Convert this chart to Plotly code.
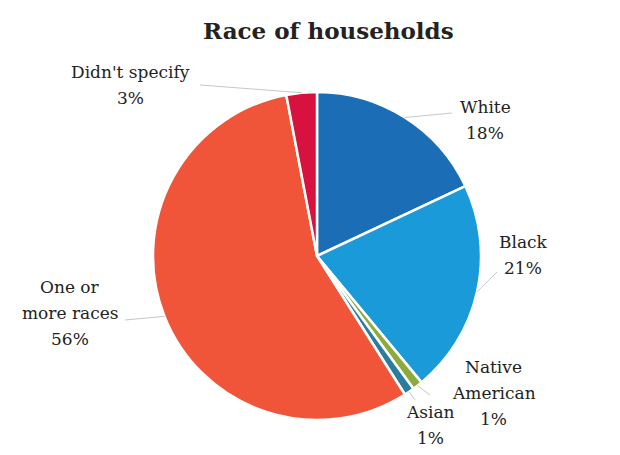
import math
import plotly.graph_objects as go

# ---- data ----
categories = ["White", "Black", "Native American", "Asian", "One or more races", "Didn't specify"]
shares = [18, 21, 1, 1, 56, 3]
label_lines = [["White", "18%"], ["Black", "21%"], ["Native", "American", "1%"], ["Asian", "1%"],
               ["One or", "more races", "56%"], ["Didn't specify", "3%"]]
colors = ["#1b6db5", "#1a9ad8", "#8cab3a", "#2b7d9e", "#f0553a", "#d8123e"]

# ---- layout helpers (pixels -> paper); page body offsets figure by 8px ----
OFF = 8
W, H = 620, 455
CX, CY, R = 317, 256, 164
SERIF = "DejaVu Serif"
LINE_GAP = 26


def px(x):
    return (x - OFF) / W


def py(y):
    return 1 - (y - OFF) / H


# label anchor positions (pixels, centre of text block)
label_pos = [(485, 120), (523, 255), (494, 393), (430, 425), (70, 313), (130, 85)]
# leader-line far ends (pixels)
line_end = [(452, 113), (497, 272), (430, 395), (415, 400), (125, 320), (200, 85)]

fig = go.Figure(go.Pie(
    labels=categories,
    values=shares,
    sort=False,
    direction="clockwise",
    rotation=0,
    marker=dict(colors=colors, line=dict(color="white", width=2.5)),
    textinfo="none",
    hoverinfo="label+percent",
    showlegend=False,
    domain=dict(x=[px(CX - R), px(CX + R)], y=[py(CY + R), py(CY - R)]),
))

annotations = []
shapes = []
total = sum(shares)
cum = 0
for i, (cat, v) in enumerate(zip(categories, shares)):
    mid = (cum + v / 2) / total * 2 * math.pi
    cum += v
    sx = CX + R * math.sin(mid)
    sy = CY - R * math.cos(mid)
    ex, ey = line_end[i]
    shapes.append(dict(type="line", xref="paper", yref="paper",
                       x0=px(sx), y0=py(sy), x1=px(ex), y1=py(ey),
                       line=dict(color="#c8c8c8", width=1)))
    lx, ly = label_pos[i]
    lines = label_lines[i]
    n = len(lines)
    for k, txt in enumerate(lines):
        yk = ly + (k - (n - 1) / 2) * LINE_GAP
        annotations.append(dict(x=px(lx), y=py(yk), xref="paper", yref="paper",
                                text=txt, showarrow=False,
                                xanchor="center", yanchor="middle", align="center",
                                font=dict(family=SERIF, size=17, color="#222222")))

annotations.append(dict(x=px(328), y=py(30), xref="paper", yref="paper",
                        text="<b>Race of households</b>", showarrow=False,
                        xanchor="center", yanchor="middle",
                        font=dict(family=SERIF, size=23, color="#222222")))

fig.update_layout(
    width=W, height=H,
    margin=dict(l=0, r=0, t=0, b=0),
    paper_bgcolor="white",
    plot_bgcolor="white",
    annotations=annotations,
    shapes=shapes,
)

fig.write_html("out.html")
